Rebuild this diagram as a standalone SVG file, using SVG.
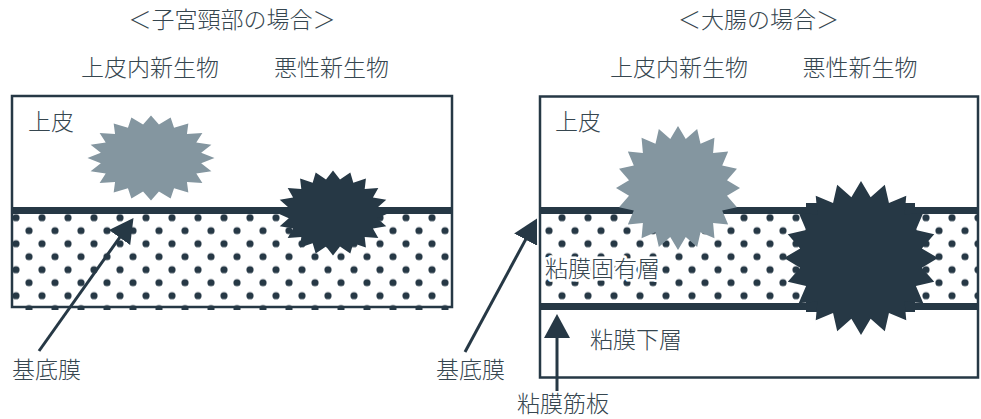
<svg xmlns="http://www.w3.org/2000/svg" xmlns:xlink="http://www.w3.org/1999/xlink" width="981" height="419" viewBox="0 0 981 419">
<style>
.t{font-family:"Noto Sans CJK JP","Noto Sans",sans-serif;font-size:23px;font-weight:300;fill:#36464f}
.title{font-size:23px}
.mid{text-anchor:middle}
.frame{fill:none;stroke:#263845;stroke-width:2.5}
.mem{stroke:#263845;stroke-width:7}
.dots{fill:url(#dotpat)}
.dark{fill:#263845}
.grey{fill:#8496a0}
.lead{stroke:#263845;stroke-width:3;fill:none}
.halo{stroke:#fff;stroke-width:5;paint-order:stroke;stroke-linejoin:round}
</style>
<defs>
<pattern id="dotpat" patternUnits="userSpaceOnUse" x="3" y="204.7" width="26" height="26">
<circle cx="13" cy="13" r="3.6" fill="#263845"/>
<circle cx="0" cy="0" r="3.6" fill="#263845"/>
<circle cx="26" cy="0" r="3.6" fill="#263845"/>
<circle cx="0" cy="26" r="3.6" fill="#263845"/>
<circle cx="26" cy="26" r="3.6" fill="#263845"/>
</pattern>
<polygon id="star" points="100,0 79,12.5 95.1,30.9 71.3,36.3 80.9,58.8 56.6,56.6 58.8,80.9 36.3,71.3 30.9,95.1 12.5,79 0,100 -12.5,79 -30.9,95.1 -36.3,71.3 -58.8,80.9 -56.6,56.6 -80.9,58.8 -71.3,36.3 -95.1,30.9 -79,12.5 -100,0 -79,-12.5 -95.1,-30.9 -71.3,-36.3 -80.9,-58.8 -56.6,-56.6 -58.8,-80.9 -36.3,-71.3 -30.9,-95.1 -12.5,-79 0,-100 12.5,-79 30.9,-95.1 36.3,-71.3 58.8,-80.9 56.6,-56.6 80.9,-58.8 71.3,-36.3 95.1,-30.9 79,-12.5"/>
<marker id="head" markerUnits="userSpaceOnUse" viewBox="0 0 24 26" markerWidth="24" markerHeight="26" refX="4" refY="13" orient="auto">
<path d="M0,0 L24,13 L0,26 z" fill="#263845"/>
</marker>
</defs>

<g id="cervix-panel">
<text class="t title mid" x="232" y="28">＜子宮頸部の場合＞</text>
<rect class="dots" x="12" y="214" width="440" height="96"/>
<line class="mem" x1="12" y1="210.5" x2="452" y2="210.5"/>
<rect class="frame" x="12" y="96" width="440" height="211"/>
<text class="t" x="28" y="130">上皮</text>
</g>

<g id="cervix-cin">
<text class="t mid" x="150" y="76">上皮内新生物</text>
<use href="#star" class="grey" transform="translate(151,158) scale(0.635,0.425)"/>
</g>

<g id="cervix-cancer">
<text class="t mid" x="331.5" y="76">悪性新生物</text>
<use href="#star" class="dark" transform="translate(333,213) scale(0.56,0.425)"/>
</g>

<g id="colon-panel">
<text class="t title mid" x="758.5" y="28">＜大腸の場合＞</text>
<rect class="dots" x="540" y="214" width="438" height="89"/>
<line class="mem" x1="540" y1="210.5" x2="978" y2="210.5"/>
<line class="mem" x1="540" y1="306.5" x2="978" y2="306.5"/>
<rect class="frame" x="540" y="96.5" width="438" height="281"/>
<text class="t" x="555" y="130">上皮</text>
<text class="t halo" x="545" y="277">粘膜固有層</text>
<text class="t" x="590" y="348">粘膜下層</text>
</g>

<g id="colon-adenoma">
<text class="t mid" x="679" y="76">上皮内新生物</text>
<use href="#star" class="grey" transform="translate(678,188) scale(0.62)"/>
</g>

<g id="colon-cancer">
<text class="t mid" x="860" y="76">悪性新生物</text>
<rect class="dark" x="806" y="203" width="109" height="109"/>
<use href="#star" class="dark" transform="translate(861,258) scale(0.77)"/>
</g>

<g id="label-bm-left">
<text class="t" x="12" y="378">基底膜</text>
</g>
<g id="label-bm-right">
<text class="t" x="436" y="378">基底膜</text>
</g>
<g id="label-mm">
<text class="t" x="517" y="412">粘膜筋板</text>
</g>

<g id="connectors">
<line class="lead" x1="39" y1="351" x2="121.9" y2="234.3" marker-end="url(#head)"/>
<line class="lead" x1="465" y1="352" x2="527.5" y2="236.1" marker-end="url(#head)"/>
<line class="lead" x1="557" y1="391" x2="557" y2="334" marker-end="url(#head)"/>
</g>
</svg>
